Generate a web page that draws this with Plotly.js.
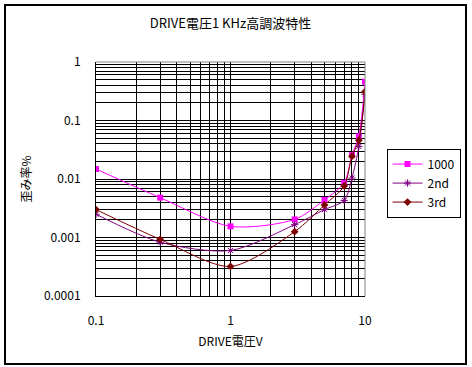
<!DOCTYPE html>
<html><head><meta charset="utf-8">
<script src="https://cdn.plot.ly/plotly-3.0.1.min.js"></script>
<style>
html,body{margin:0;padding:0;background:#fff;}
#wrap{position:relative;width:472px;height:367px;}
#chart{position:absolute;left:0;top:0;width:472px;height:367px;}
#frame{position:absolute;left:4px;top:4px;width:459px;height:357px;border:2px solid #000;pointer-events:none;}
</style>
</head><body>
<div id="wrap"><div id="chart"></div><div id="frame"></div></div>
<script>
const drive = [0.1, 0.3, 1, 3, 5, 7, 8, 9, 10];
const s1000 = [0.0148, 0.0048, 0.00155, 0.00204, 0.0044, 0.0086, 0.0256, 0.054, 0.46];
const s2nd  = [0.0025, 0.00083, 0.0006, 0.00166, 0.0030, 0.0043, 0.0104, 0.036, 0.28];
const s3rd  = [0.0030, 0.00093, 0.00032, 0.00126, 0.0036, 0.0076, 0.0245, 0.046, 0.31];
const seriesNames = ['1000', '2nd', '3rd'];
const xTickVals = [0.1, 1, 10];
const xTickText = ['0.1', '1', '10'];
const yTickVals = [0.0001, 0.001, 0.01, 0.1, 1];
const yTickText = ['0.0001', '0.001', '0.01', '0.1', '1'];

const font = "'Noto Sans CJK JP', 'Noto Sans', sans-serif";
const traces = [
  {x: drive, y: s1000, name: seriesNames[0], mode: 'lines+markers',
   line: {color: '#FF00FF', width: 1, shape: 'spline', smoothing: 0.8},
   marker: {symbol: 'square', size: 6, color: '#FF00FF'}},
  {x: drive, y: s2nd, name: seriesNames[1], mode: 'lines+markers',
   line: {color: '#800080', width: 1, shape: 'spline', smoothing: 0.8},
   marker: {symbol: 'asterisk-open', size: 6, color: '#800080', line: {color: '#800080', width: 1}}},
  {x: drive, y: s3rd, name: seriesNames[2], mode: 'lines+markers',
   line: {color: '#800000', width: 1, shape: 'spline', smoothing: 0.8},
   marker: {symbol: 'diamond', size: 6, color: '#800000'}}
];
const layout = {
  width: 472, height: 367,
  margin: {l: 96, r: 104, t: 62, b: 71},
  paper_bgcolor: '#fff', plot_bgcolor: '#fff',
  font: {family: font, size: 12, color: '#000'},
  title: {text: 'DRIVE電圧1 KHz高調波特性', x: 0.5, xref: 'paper', y: 0.935, yanchor: 'middle', font: {size: 13, family: font}},
  showlegend: true,
  legend: {x: 1.08, y: 0.63, xanchor: 'left', yanchor: 'top', bordercolor: '#000', borderwidth: 1,
           font: {size: 12, family: font}, tracegroupgap: 0, itemwidth: 30},
  xaxis: {type: 'log', range: [-1, 1], tickvals: xTickVals, ticktext: xTickText,
          showgrid: true, gridcolor: '#000', gridwidth: 1,
          minor: {dtick: 'D1', showgrid: true, gridcolor: '#000', gridwidth: 1, ticks: ''},
          showline: true, linecolor: '#000', mirror: false, zeroline: false,
          ticks: 'outside', tickcolor: 'rgba(0,0,0,0)', ticklen: 14, tickfont: {size: 12},
          title: {text: 'DRIVE電圧V', font: {size: 12}, standoff: 10}},
  yaxis: {type: 'log', range: [-4, 0], tickvals: yTickVals, ticktext: yTickText,
          showgrid: true, gridcolor: '#000', gridwidth: 1,
          minor: {dtick: 'D1', showgrid: true, gridcolor: '#000', gridwidth: 1, ticks: ''},
          showline: true, linecolor: '#000', zeroline: false,
          ticks: 'outside', tickcolor: 'rgba(0,0,0,0)', ticklen: 12, tickfont: {size: 12},
          title: {text: '歪み率%', font: {size: 12}, standoff: 9}},
  shapes: [
    {type: 'line', xref: 'paper', yref: 'paper', x0: 0, x1: 1, y0: 1, y1: 1, line: {color: '#808080', width: 1}},
    {type: 'line', xref: 'paper', yref: 'paper', x0: 1, x1: 1, y0: 0, y1: 1, line: {color: '#808080', width: 1}}
  ]
};
Plotly.newPlot('chart', traces, layout, {staticPlot: true});
</script>
</body></html>
